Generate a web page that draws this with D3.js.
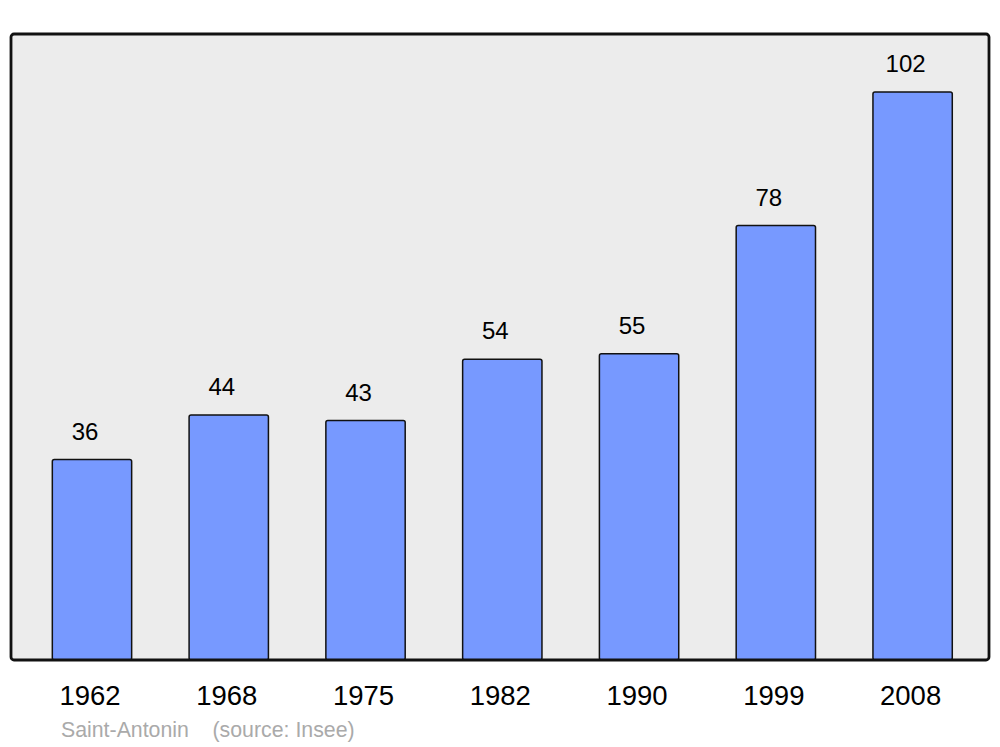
<!DOCTYPE html>
<html>
<head>
<meta charset="utf-8">
<script src="https://cdn.jsdelivr.net/npm/d3@7"></script>
<style>
  body { margin: 0; background: #fff; }
  svg { display: block; font-family: "Liberation Sans", Arial, sans-serif; }
</style>
</head>
<body>
<div id="chart"></div>
<script>
// population data
var years = ["1962", "1968", "1975", "1982", "1990", "1999", "2008"];
var population = [36, 44, 43, 54, 55, 78, 102];
var sourceText = ["Saint-Antonin", "(source: Insee)"];

var width = 1000;
var height = 747;
var frame = {left: 11, right: 989, top: 34, bottom: 660};

var svg = d3.select('#chart')
    .append('svg')
    .attr('width', width)
    .attr('height', height);

var xScale = d3.scaleBand()
    .domain(years)
    .range([23.6, 981])
    .paddingInner(0.42)
    .paddingOuter(0.21);

var yScale = d3.scaleLinear()
    .domain([0, 112.4])
    .range([frame.bottom, frame.top]);

// background
svg.append('rect')
    .attr('x', frame.left)
    .attr('y', frame.top)
    .attr('width', frame.right - frame.left)
    .attr('height', frame.bottom - frame.top)
    .attr('rx', 3)
    .attr('fill', '#ececec');

// bars
svg.selectAll('rect.bar')
    .data(population)
    .enter()
    .append('rect')
        .classed('bar', true)
        .attr('x', function (d, i) { return xScale(years[i]); })
        .attr('y', function (d) { return yScale(d); })
        .attr('width', xScale.bandwidth())
        .attr('height', function (d) { return yScale(0) - yScale(d); })
        .attr('rx', 2)
        .attr('fill', '#7799ff')
        .attr('stroke', '#111')
        .attr('stroke-width', 1.5);

// frame border on top of the bars
svg.append('rect')
    .attr('x', frame.left)
    .attr('y', frame.top)
    .attr('width', frame.right - frame.left)
    .attr('height', frame.bottom - frame.top)
    .attr('rx', 3)
    .attr('fill', 'none')
    .attr('stroke', '#111')
    .attr('stroke-width', 2.8);

// value labels
svg.selectAll('text.value')
    .data(population)
    .enter()
    .append('text')
        .classed('value', true)
        .attr('x', function (d, i) { return xScale(years[i]) + xScale.bandwidth() / 2 - 7; })
        .attr('y', function (d) { return yScale(d) - 20; })
        .attr('text-anchor', 'middle')
        .attr('font-size', 24)
        .attr('fill', '#000')
        .text(function (d) { return d; });

// x axis labels
var xAxis = d3.axisBottom(xScale).tickSize(0).tickPadding(0);
var axisG = svg.append('g')
    .attr('transform', 'translate(-2,' + frame.bottom + ')')
    .call(xAxis);
axisG.select('.domain').remove();
axisG.selectAll('text')
    .attr('dy', 0)
    .attr('y', 45)
    .attr('font-size', 27.5)
    .attr('font-family', '"Liberation Sans", Arial, sans-serif')
    .attr('fill', '#000');

// source line
svg.append('text')
    .attr('x', 61)
    .attr('y', 737)
    .attr('font-size', 21.3)
    .attr('fill', '#aaa')
    .attr('xml:space', 'preserve')
    .text(sourceText[0] + '    ' + sourceText[1]);
</script>
</body>
</html>
